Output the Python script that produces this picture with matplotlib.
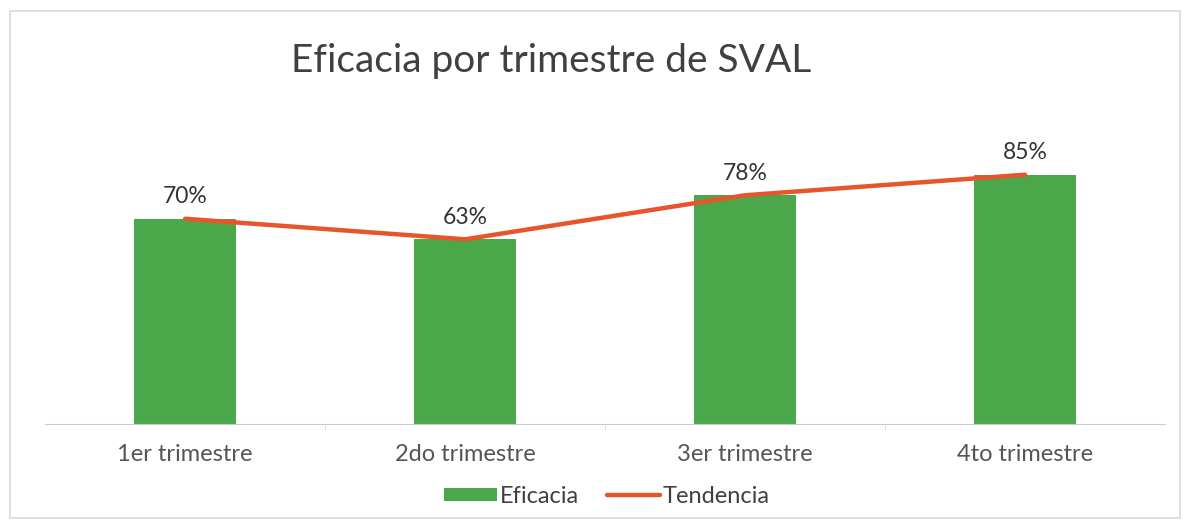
import matplotlib.pyplot as plt
from matplotlib.patches import Rectangle

# data
trimestres = ["1er trimestre", "2do trimestre", "3er trimestre", "4to trimestre"]
eficacia = [70, 63, 78, 85]
tendencia = [70, 63, 78, 85]
etiquetas = ["70%", "63%", "78%", "85%"]

plt.rcParams['font.family'] = ['Lato', 'DejaVu Sans']

fig = plt.figure(figsize=(11.9, 5.29), dpi=100)
fig.patch.set_facecolor('white')
# light frame around the chart
fig.patches.append(Rectangle((0.008, 0.02), 0.984, 0.96, transform=fig.transFigure,
                             fill=False, edgecolor='#d9d9d9', linewidth=1.2))

ax = fig.add_axes([0.038, 0.198, 0.941, 0.555])
x = list(range(len(trimestres)))

barras = ax.bar(x, eficacia, width=0.365, color='#4aa84a', label='Eficacia', zorder=2)
linea, = ax.plot(x, tendencia, color='#e8542c', linewidth=3.2, label='Tendencia', zorder=3,
                 solid_capstyle='round')

for xi, v, t in zip(x, eficacia, etiquetas):
    ax.text(xi, v + 4.0, t, ha='center', va='bottom', fontsize=16.5, color='#333333')

ax.set_xlim(-0.5, 3.5)
ax.set_ylim(0, 100)
ax.set_yticks([])
ax.set_xticks(x)
ax.set_xticklabels(trimestres, fontsize=17, color='#555555')
ax.tick_params(axis='x', length=0, pad=14)
ax.set_xticks([0.5, 1.5, 2.5], minor=True)
ax.tick_params(axis='x', which='minor', length=4, color='#dddddd')
for s in ['top', 'right', 'left']:
    ax.spines[s].set_visible(False)
ax.spines['bottom'].set_color('#cccccc')
ax.set_facecolor('none')

fig.text(0.463, 0.885, "Eficacia por trimestre de SVAL", ha='center', va='center',
         fontsize=28, color='#404040')

fig.legend([barras, linea], ['Eficacia', 'Tendencia'], loc='center',
           bbox_to_anchor=(0.51, 0.062), ncol=2, frameon=False,
           fontsize=17, handlelength=2.25, handleheight=0.45, handletextpad=0.1,
           columnspacing=1.2, labelcolor='#404040')

plt.savefig('out.png', dpi=100)
